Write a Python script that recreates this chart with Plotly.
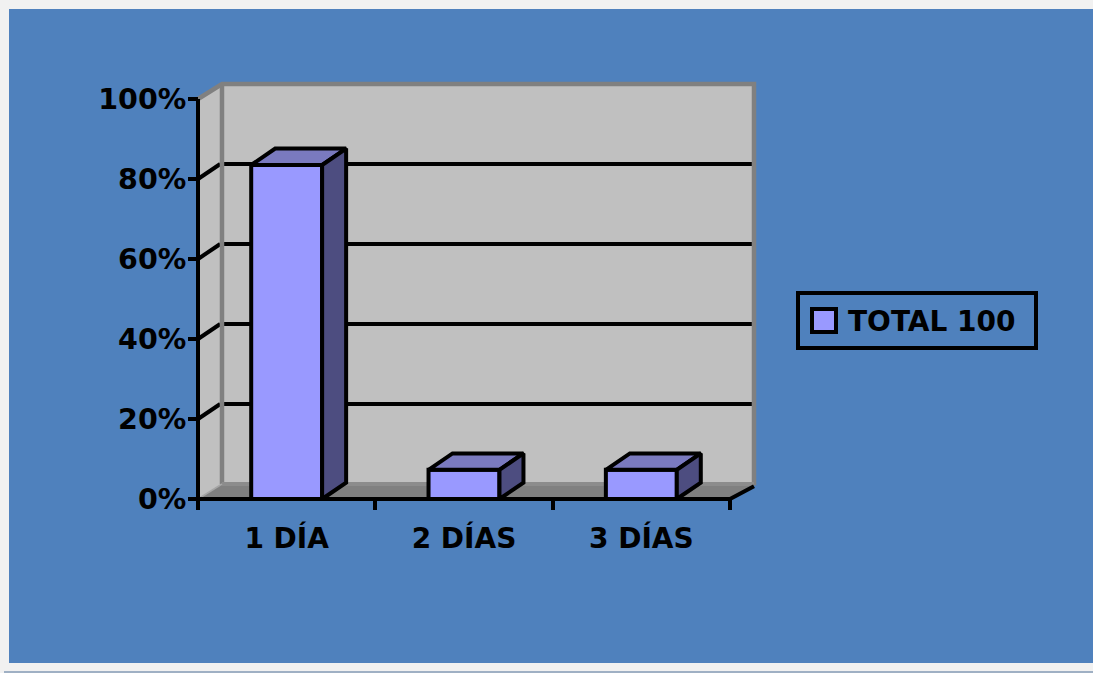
import plotly.graph_objects as go

categories = ["1 DÍA", "2 DÍAS", "3 DÍAS"]
series_name = "TOTAL 100"
values = [0.835, 0.073, 0.073]
y_ticks = [0, 0.2, 0.4, 0.6, 0.8, 1.0]
y_labels = ["0%", "20%", "40%", "60%", "80%", "100%"]

W, H = 1093, 673
FONT = dict(family="DejaVu Sans", size=28, color="black")
FONTY = dict(family="DejaVu Sans", size=28.5, color="black")
FONTB = "<b>%s</b>"
dx, dy = 0.1353, 0.0375      # wall depth in axis units
bdx, bdy = 0.1353, 0.041     # bar depth in axis units
bw = 0.4
xl, xr = -0.5, 2.5
LW = 4
PX_X = 532 / 3.0             # pixels per category
PX_Y = 400.0                 # pixels per 100 %
PAD = 8                      # pixels of room round the walls so edges are not cut
LEFT_PX, BOTTOM_PX = 198, 499

shapes = []
def paper_rect(x0, y0, x1, y1, **k):
    shapes.append(dict(type="rect", xref="paper", yref="paper", x0=x0/W, x1=x1/W,
                       y0=1-y0/H, y1=1-y1/H, layer="below", **k))
def data_poly(pts, fill=None, line=None, width=0):
    path = "M" + " L".join(f"{a},{b}" for a, b in pts) + (" Z" if fill else "")
    shapes.append(dict(type="path", xref="x", yref="y", path=path, layer="below",
                       fillcolor=fill if fill else "rgba(0,0,0,0)",
                       line=dict(color=line if line else "rgba(0,0,0,0)", width=width)))

# page / chart background
paper_rect(9, 9, W + 2, 663, fillcolor="#4f81bd", line=dict(width=0))
paper_rect(4, 671, W + 2, H + 2, fillcolor="#9fb0c4", line=dict(width=0))

# walls
top = 1.0 + dy
data_poly([(xl + dx, dy), (xr + dx, dy), (xr + dx, top), (xl + dx, top)], fill="#c0c0c0")
data_poly([(xl, 0), (xl + dx, dy), (xl + dx, top), (xl, 1.0)], fill="#c0c0c0")
data_poly([(xl, 0), (xl + dx, dy), (xr + dx, dy), (xr, 0)], fill="#808080")

# gridlines on the back and left walls
for v in y_ticks[1:-1]:
    data_poly([(xl + dx, v + dy), (xr + dx, v + dy)], line="black", width=LW)
    data_poly([(xl, v), (xl + dx - 0.01, v + dy)], line="black", width=LW)

# wall edges
data_poly([(xl, 1.0), (xl + dx, top), (xr + dx, top), (xr + dx, dy * 0.9)], line="#808080", width=4.5)
data_poly([(xl + dx, top), (xl + dx, dy)], line="#808080", width=4.5)
data_poly([(xl + dx, dy), (xr + dx, dy)], line="#8c8c8c", width=4)
data_poly([(xl, 0), (xl + dx, dy)], line="#a6a6a6", width=1.5)

def face_trace(polys, color):
    xs, ys = [], []
    for p in polys:
        xs += [a for a, _ in p] + [p[0][0], None]
        ys += [b for _, b in p] + [p[0][1], None]
    return go.Scatter(x=xs, y=ys, mode="lines", fill="toself", fillcolor=color,
                      line=dict(color="black", width=LW),
                      showlegend=False, hoverinfo="skip")

tops, sides = [], []
for i, v in enumerate(values):
    a, b = i - bw / 2, i + bw / 2
    tops.append([(a, v), (a + bdx, v + bdy), (b + bdx, v + bdy), (b, v)])
    sides.append([(b, 0), (b + bdx, bdy), (b + bdx, v + bdy), (b, v)])

fig = go.Figure()
fig.add_trace(go.Bar(x=list(range(len(values))), y=values, width=bw, name=series_name,
                     marker=dict(color="#9999ff", line=dict(color="black", width=LW)),
                     showlegend=False))
fig.add_trace(face_trace(tops, "#7a7abf"))
fig.add_trace(face_trace(sides, "#4d4d80"))
# front axis lines
fig.add_trace(go.Scatter(x=[xl, xl, xr, xr + dx], y=[1.0, 0, 0, dy * 0.85], mode="lines",
                         line=dict(color="black", width=LW),
                         showlegend=False, hoverinfo="skip"))

# legend (box, swatch, label)
paper_rect(798, 293, 1036, 348, fillcolor="rgba(0,0,0,0)", line=dict(color="black", width=4))
paper_rect(812, 309, 836, 332, fillcolor="#9999ff", line=dict(color="black", width=4))

# axis ranges with a little room on every side; axes are pinned at the front corner
x_lo = xl - PAD / PX_X
x_hi = xr + dx + PAD / PX_X
y_lo = -PAD / PX_Y
y_hi = top + PAD / PX_Y
dom_x = [(LEFT_PX - PAD) / W, (LEFT_PX + (x_hi - xl) * PX_X) / W]
dom_y = [1 - (BOTTOM_PX + PAD) / H, 1 - (BOTTOM_PX - y_hi * PX_Y) / H]

fig.update_layout(
    width=W, height=H, margin=dict(l=0, r=0, t=0, b=0, pad=0), autosize=False,
    paper_bgcolor="#f1f1f1", plot_bgcolor="rgba(0,0,0,0)", showlegend=False,
    shapes=shapes, bargap=0.6,
    annotations=[dict(text=FONTB % series_name, xref="paper", yref="paper", x=846/W, y=1-321/H,
                      xanchor="left", yanchor="middle", showarrow=False, font=FONT)],
    xaxis=dict(domain=dom_x, range=[x_lo, x_hi], anchor="free", position=1 - BOTTOM_PX / H,
               showgrid=False, zeroline=False,
               automargin=False, showline=False, tickmode="array",
               tickvals=list(range(len(categories))),
               ticktext=[FONTB % c for c in categories], ticks="", tickfont=FONT,
               ticklabelstandoff=20,
               minor=dict(tickmode="array", tickvals=[-0.5, 0.5, 1.5, 2.5], ticks="outside",
                          ticklen=10, tickwidth=4, tickcolor="black", showgrid=False)),
    yaxis=dict(domain=dom_y, range=[y_lo, y_hi], anchor="free", position=LEFT_PX / W,
               showgrid=False, zeroline=False,
               automargin=False, showline=False, tickmode="array", tickvals=y_ticks,
               ticktext=[FONTB % t for t in y_labels], ticks="outside", ticklen=10,
               tickwidth=4, tickcolor="black", tickfont=FONTY, ticklabelstandoff=-4),
)
fig.write_html("out.html", config={"displayModeBar": False},
               post_script="document.body.style.margin='0';document.documentElement.style.overflow='hidden';")
